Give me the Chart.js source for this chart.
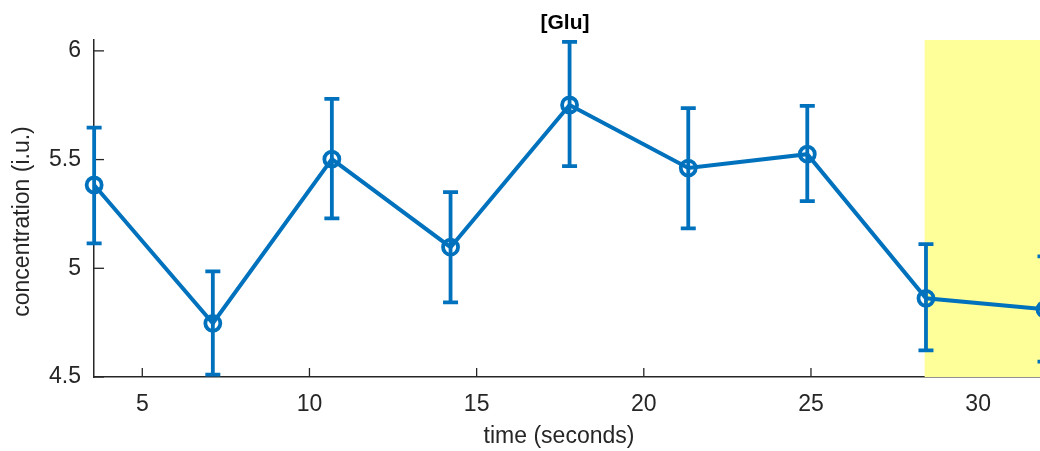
<!DOCTYPE html>
<html>
<head>
<meta charset="utf-8">
<script src="https://cdn.jsdelivr.net/npm/chart.js@4.4.1/dist/chart.umd.min.js"></script>
<style>
  html, body { margin: 0; padding: 0; background: #fff; overflow: hidden; }
  canvas { display: block; }
</style>
</head>
<body>
<canvas id="gluChart" width="1045" height="451"></canvas>
<script>
// time points (seconds) and measured [Glu]
const times = [3.56, 7.11, 10.67, 14.22, 17.78, 21.33, 24.89, 28.44, 32.0];
const glu = [5.383, 4.747, 5.502, 5.097, 5.751, 5.461, 5.525, 4.862, 4.811];
const gluUpper = [5.647, 4.986, 5.779, 5.350, 6.041, 5.737, 5.747, 5.111, 5.055];
const gluLower = [5.115, 4.511, 5.230, 4.843, 5.470, 5.184, 5.309, 4.622, 4.571];

const xTicks = [5, 10, 15, 20, 25, 30];
const yTicks = [4.5, 5, 5.5, 6];
const highlightStart = 28.4;   // shaded window begins here

const blue = '#0072BD';
const axisColor = '#262626';
const font = 'Liberation Sans, Arial, Helvetica, sans-serif';

// yellow window + inward ticks, drawn under the data
const backdrop = {
    id: 'backdrop',
    beforeDatasetsDraw(chart) {
        const { ctx, chartArea, scales } = chart;
        const x = scales.x, y = scales.y;
        ctx.save();
        ctx.strokeStyle = axisColor;
        ctx.lineWidth = 1.3;
        xTicks.forEach(t => {
            const px = x.getPixelForValue(t);
            ctx.beginPath();
            ctx.moveTo(px, chartArea.bottom);
            ctx.lineTo(px, chartArea.bottom - 9);
            ctx.stroke();
        });
        yTicks.forEach(t => {
            const py = y.getPixelForValue(t);
            ctx.beginPath();
            ctx.moveTo(chartArea.left, py);
            ctx.lineTo(chartArea.left + 10, py);
            ctx.stroke();
        });
        const x0 = x.getPixelForValue(highlightStart);
        ctx.fillStyle = '#FFFF99';
        ctx.fillRect(x0, chartArea.top, chartArea.right - x0, chartArea.bottom - chartArea.top);
        ctx.restore();
    }
};

// error bars with caps
const errorBars = {
    id: 'errorBars',
    afterDatasetsDraw(chart) {
        const { ctx, scales } = chart;
        ctx.save();
        ctx.strokeStyle = blue;
        ctx.lineWidth = 3.8;
        times.forEach((t, i) => {
            const px = scales.x.getPixelForValue(t);
            const top = scales.y.getPixelForValue(gluUpper[i]);
            const bot = scales.y.getPixelForValue(gluLower[i]);
            ctx.beginPath();
            ctx.moveTo(px, top);
            ctx.lineTo(px, bot);
            ctx.moveTo(px - 7.5, top);
            ctx.lineTo(px + 7.5, top);
            ctx.moveTo(px - 7.5, bot);
            ctx.lineTo(px + 7.5, bot);
            ctx.stroke();
        });
        ctx.restore();
    }
};

// title and axis labels, placed like the matlab figure
const labels = {
    id: 'labels',
    afterDraw(chart) {
        const { ctx, chartArea } = chart;
        const midY = (chartArea.top + chartArea.bottom) / 2;
        ctx.save();
        ctx.textAlign = 'center';
        ctx.textBaseline = 'middle';
        ctx.fillStyle = '#000';
        ctx.font = 'bold 21px ' + font;
        ctx.fillText('[Glu]', 565, 23);
        ctx.fillStyle = axisColor;
        ctx.font = '23px ' + font;
        ctx.fillText('time (seconds)', 559, 437);
        ctx.translate(23, midY + 13);
        ctx.rotate(-Math.PI / 2);
        ctx.fillText('concentration (i.u.)', 0, 0);
        ctx.restore();
    }
};

const ctx = document.getElementById('gluChart').getContext('2d');
new Chart(ctx, {
    type: 'line',
    data: {
        datasets: [{
            data: times.map((t, i) => ({ x: t, y: glu[i] })),
            borderColor: blue,
            borderWidth: 4,
            pointRadius: 7.5,
            pointBorderWidth: 3.8,
            pointBackgroundColor: 'rgba(0,0,0,0)',
            pointBorderColor: blue,
            tension: 0,
            clip: false
        }]
    },
    options: {
        responsive: false,
        animation: false,
        layout: { padding: { top: 40 }, autoPadding: false },
        plugins: {
            legend: { display: false },
            tooltip: { enabled: false },
            title: { display: false }
        },
        scales: {
            x: {
                type: 'linear',
                min: 3.5556,
                max: 32,
                afterBuildTicks: s => { s.ticks = xTicks.map(v => ({ value: v })); },
                afterFit: s => { s.height = 74; },
                grid: { display: true, drawOnChartArea: false, drawTicks: false },
                border: { display: true, color: axisColor, width: 1.5 },
                ticks: {
                    color: axisColor,
                    padding: 14,
                    font: { family: font, size: 23 },
                    callback: v => String(v)
                }
            },
            y: {
                min: 4.5,
                max: 6.05,
                afterBuildTicks: s => { s.ticks = yTicks.map(v => ({ value: v })); },
                afterFit: s => { s.width = 94; },
                grid: { display: true, drawOnChartArea: false, drawTicks: false },
                border: { display: true, color: axisColor, width: 1.5 },
                ticks: {
                    color: axisColor,
                    padding: 13,
                    font: { family: font, size: 23 },
                    callback: v => String(v)
                }
            }
        }
    },
    plugins: [backdrop, errorBars, labels]
});
</script>
</body>
</html>
